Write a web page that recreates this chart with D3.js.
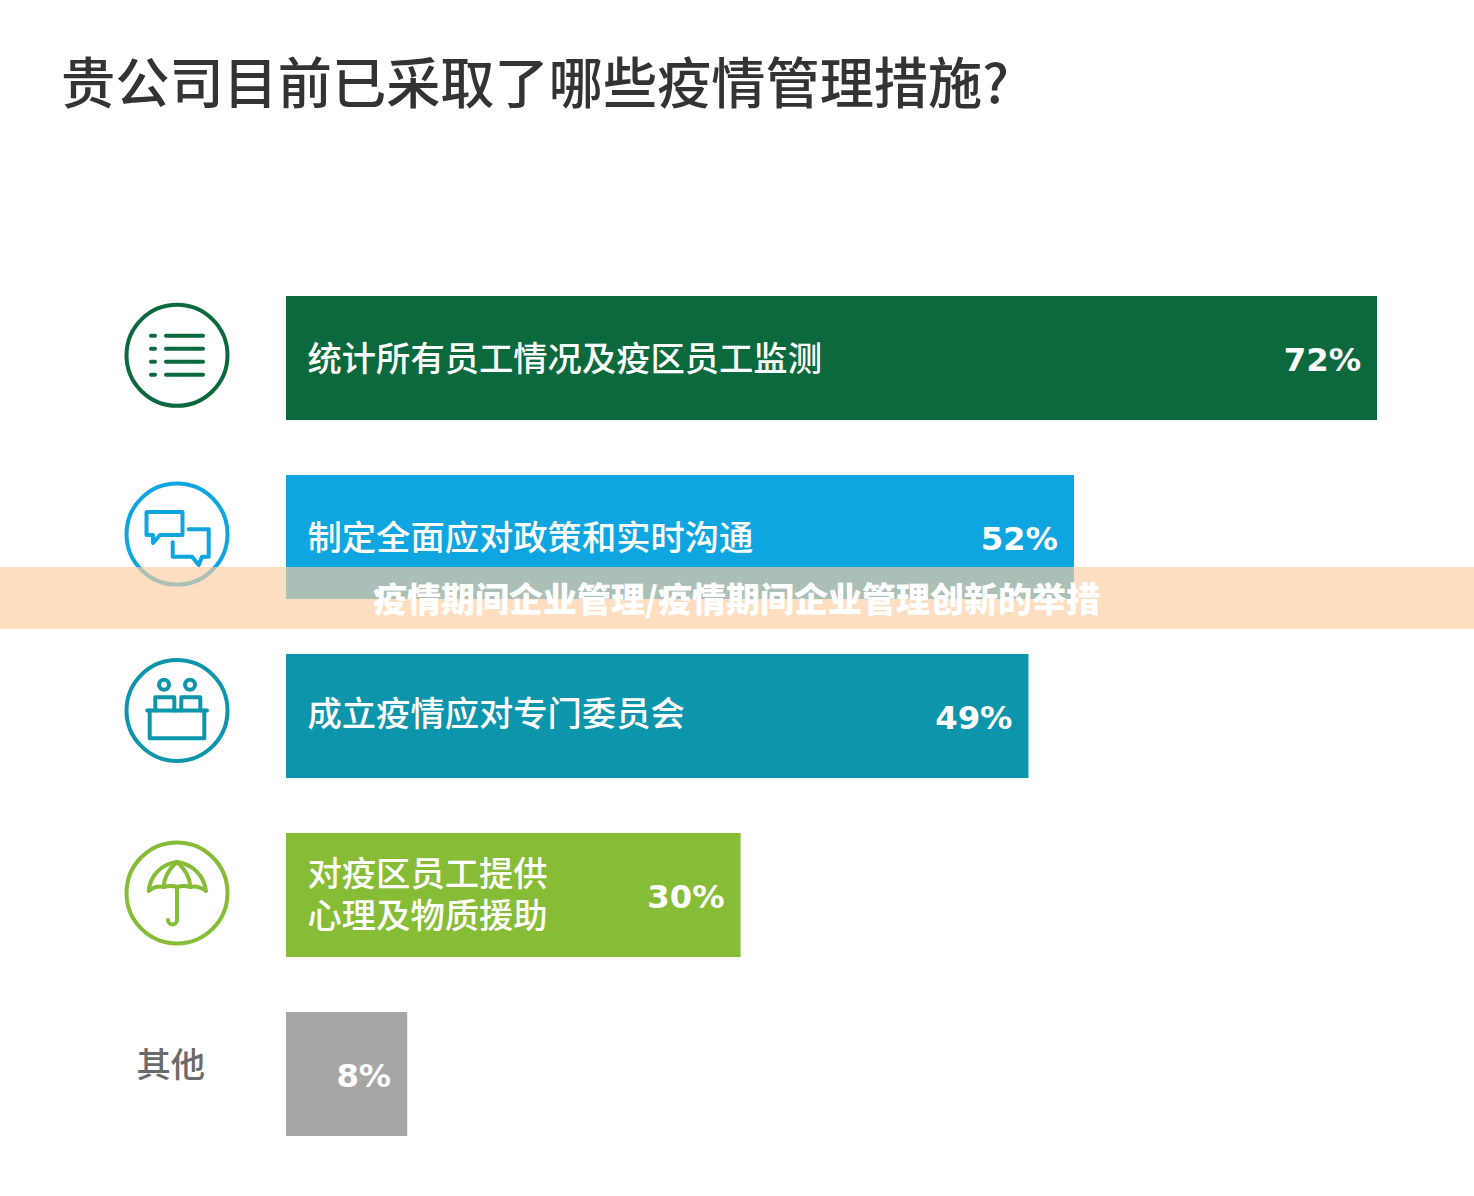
<!DOCTYPE html>
<html lang="zh">
<head>
<meta charset="utf-8">
<title>疫情管理措施</title>
<script src="https://cdnjs.cloudflare.com/ajax/libs/d3/7.8.5/d3.min.js"></script>
<style>
  html, body { margin: 0; padding: 0; background: #fff; }
  svg { display: block; }
  text { font-family: "Noto Sans CJK SC", "DejaVu Sans", sans-serif; }
</style>
</head>
<body>
<svg id="chart" width="1474" height="1196"></svg>
<script>
// Survey results: share of companies taking each measure
const chartTitle = "贵公司目前已采取了哪些疫情管理措施?";
const bannerText = "疫情期间企业管理/疫情期间企业管理创新的举措";
const measures = [
  ["统计所有员工情况及疫区员工监测"],
  ["制定全面应对政策和实时沟通"],
  ["成立疫情应对专门委员会"],
  ["对疫区员工提供", "心理及物质援助"],
  []
];
const otherLabel = "其他";
const shares = [72, 52, 49, 30, 8];
const barColors = ["#0c693e", "#0fa5e0", "#0d95ab", "#86bc36", "#a6a6a6"];
const iconKinds = ["list", "chat", "desk", "umbrella"];

const svg = d3.select("#chart");

const x = d3.scaleLinear().domain([0, 72]).range([286, 1377]);
const y = d3.scaleBand().domain(d3.range(shares.length)).range([296, 1136]).paddingInner(0.307);

// Title: the question mark falls back to the Latin face
svg.append("text")
  .attr("x", 61).attr("y", 103)
  .attr("font-size", 54.2).attr("font-weight", 500).attr("fill", "#333333")
  .text(chartTitle);

// Bars
svg.append("g").selectAll("rect")
  .data(shares)
  .join("rect")
  .attr("x", x(0))
  .attr("y", (d, i) => y(i))
  .attr("width", d => x(d) - x(0))
  .attr("height", y.bandwidth())
  .attr("fill", (d, i) => barColors[i]);

// Measure names inside the bars, one or two lines
const labelGroups = svg.append("g").selectAll("text")
  .data(measures)
  .join("text")
  .attr("fill", "#ffffff")
  .attr("font-size", 34.3)
  .attr("font-weight", 500)
  .attr("x", 307.5)
  .attr("y", (d, i) => y(i) + y.bandwidth() / 2 + 13 + (i === 2 ? -3 : 0));

labelGroups.selectAll("tspan")
  .data(d => d)
  .join("tspan")
  .attr("x", 307.5)
  .attr("dy", function (d, i, nodes) {
    if (nodes.length === 1) return 0;
    return i === 0 ? -22 : 42;
  })
  .text(d => d);

// Percentages, right-aligned near the bar end
svg.append("g").selectAll("text")
  .data(shares)
  .join("text")
  .attr("x", d => x(d) - 16)
  .attr("y", (d, i) => y(i) + y.bandwidth() / 2 + 13)
  .attr("text-anchor", "end")
  .attr("font-size", 32.3)
  .attr("font-weight", 700)
  .attr("fill", "#ffffff")
  .style("font-family", '"DejaVu Sans", sans-serif')
  .text(d => d + "%");

// The last row has a plain label in place of an icon
svg.append("text")
  .attr("x", 136.5)
  .attr("y", y(4) + y.bandwidth() / 2 + 3)
  .attr("font-size", 34.3)
  .attr("font-weight", 500)
  .attr("fill", "#6a6a6a")
  .text(otherLabel);

// Line icons, drawn around the origin of each group
const iconOffsets = [-2.7, -3, -5.5, -2];
const iconPainters = {
  list(g) {
    [-19.5, -6.5, 6.5, 19.5].forEach(r => {
      g.append("path").attr("d", `M-26,${r}H-22`);
      g.append("path").attr("d", `M-11,${r}H26`);
    });
  },
  chat(g) {
    g.append("path").attr("d", "M-30.5,-22H5.5V1H-17L-24,9V1H-30.5Z");
    g.append("path").attr("d", "M11.7,-4.7H31.7V22.7H25L21.7,31L15,22.7H-4.3V8.3");
  },
  desk(g) {
    g.append("circle").attr("cx", -13).attr("cy", -25.7).attr("r", 5);
    g.append("circle").attr("cx", 13).attr("cy", -25.7).attr("r", 5);
    g.append("path").attr("d", "M-21.7,0V-13.3H-2.7V0M4.3,0V-13.3H23.3V0");
    g.append("path").attr("d", "M-29.7,0H30");
    g.append("path").attr("d", "M-27.3,0V27.7H27.3V0");
  },
  umbrella(g) {
    g.append("path").attr("d", "M0,-31C-16,-29 -27,-17 -28.3,-2Q-21,-8 -13.3,-6Q-6,-8 0,-6Q6,-8 13.3,-6Q21,-8 29,-2C27,-17 16,-29 0,-31Z");
    g.append("path").attr("d", "M0,-31C-8,-24 -13,-15 -13.3,-6M0,-31C8,-24 13,-15 13.3,-6");
    g.append("path").attr("d", "M0,-6V27A4.5,4.5 0 0 1 -9,27");
  }
};

iconKinds.forEach((kind, i) => {
  const g = svg.append("g")
    .attr("transform", `translate(177,${y(i) + y.bandwidth() / 2 + iconOffsets[i]})`)
    .attr("fill", "none")
    .attr("stroke", barColors[i])
    .attr("stroke-width", 4)
    .attr("stroke-linecap", "round")
    .attr("stroke-linejoin", "round");
  g.append("circle").attr("r", 50.5);
  iconPainters[kind](g);
});

// Translucent banner across the middle of the page
svg.append("rect")
  .attr("x", 0).attr("y", 567)
  .attr("width", 1474).attr("height", 62)
  .attr("fill", "rgb(252,205,159)").attr("fill-opacity", 0.66);

svg.append("text")
  .attr("x", 736.5).attr("y", 612)
  .attr("text-anchor", "middle")
  .attr("font-size", 34)
  .attr("font-weight", 900)
  .attr("fill", "#ffffff")
  .text(bannerText);
</script>
</body>
</html>
